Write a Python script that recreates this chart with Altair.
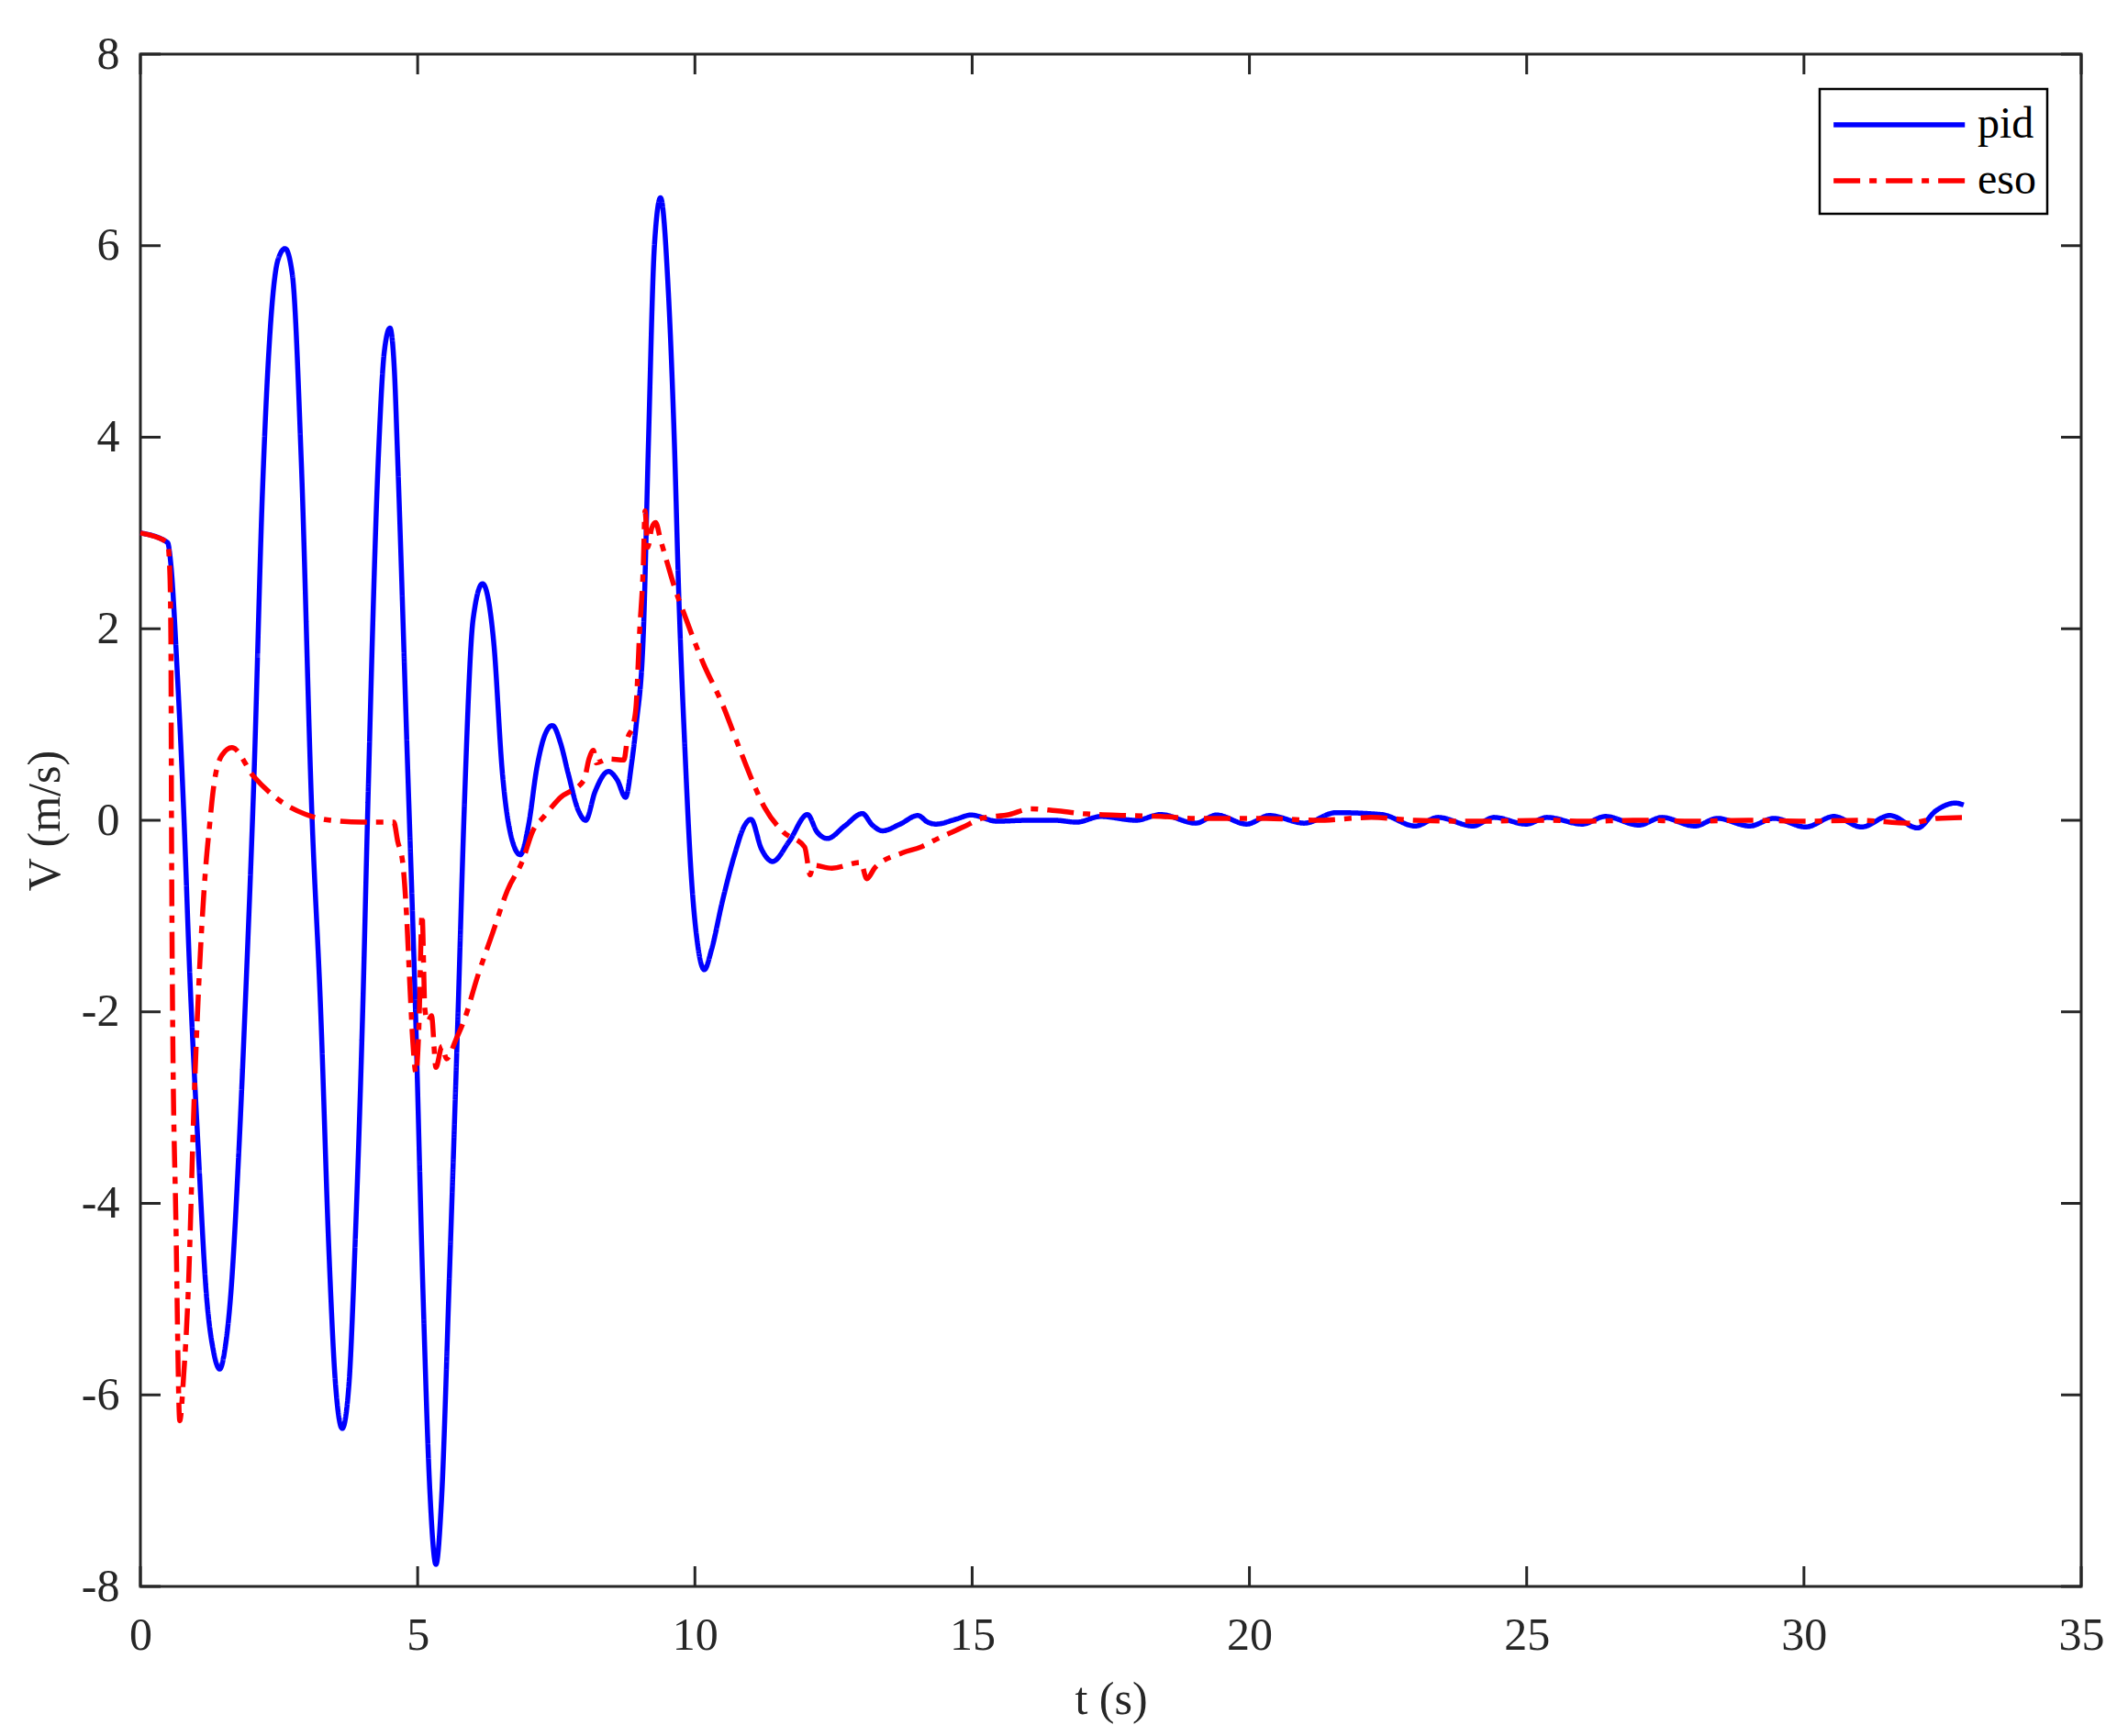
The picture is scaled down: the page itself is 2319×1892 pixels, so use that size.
import altair as alt
import pandas as pd

# pid response
pid_t = [0, 0.49, 0.55, 0.66, 0.78, 0.89, 1.04, 1.19, 1.32, 1.43, 1.53, 1.63, 1.78, 1.9,
         2.05, 2.2, 2.35, 2.48, 2.61, 2.74, 2.9, 3.09, 3.25, 3.4, 3.52, 3.64, 3.76, 3.88,
         4.01, 4.1, 4.29, 4.4, 4.5, 4.58, 4.64, 4.8, 4.96, 5.1, 5.22, 5.33, 5.43, 5.57,
         5.73, 5.84, 6.0, 6.17, 6.37, 6.53, 6.7, 6.85, 7.0, 7.15, 7.3, 7.43, 7.58, 7.71,
         7.9, 8.03, 8.2, 8.44, 8.6, 8.75, 8.86, 8.94, 9.07, 9.16, 9.27, 9.38, 9.52, 9.63,
         9.71, 9.82, 9.93, 10.05, 10.17, 10.3, 10.49, 10.71, 10.9, 11.01, 11.2, 11.4, 11.7,
         12.03, 12.2, 12.39, 12.7, 13.02, 13.2, 13.38, 13.7, 14.02, 14.2, 14.35, 14.7,
         14.98, 15.45, 16.0, 16.5, 16.88, 17.32, 17.95, 18.4, 19.03, 19.41, 19.95, 20.36,
         20.99, 21.56, 22.39, 22.99, 23.4, 24.03, 24.41, 24.99, 25.37, 26.0, 26.42, 27.02,
         27.44, 28.03, 28.44, 29.02, 29.46, 30.03, 30.54, 31.04, 31.55, 32.05, 32.38,
         32.73, 32.88]
pid_v = [3.0, 2.9, 2.67, 1.6, 0.11, -1.6, -3.4, -4.95, -5.55, -5.73, -5.5, -4.95, -3.4, -1.8,
         0.48, 3.41, 5.2, 5.85, 5.97, 5.7, 3.77, 0.11, -1.97, -4.5, -5.9, -6.35, -5.9, -4.3,
         -1.97, 0.11, 3.77, 4.9, 5.14, 4.7, 3.77, 0.9, -1.97, -5.0, -7.0, -7.77, -7.1, -4.8,
         -1.97, 0.11, 2.1, 2.47, 1.87, 0.48, -0.2, -0.36, -0.05, 0.55, 0.9, 0.99, 0.8, 0.5,
         0.1, 0.0, 0.3, 0.51, 0.42, 0.24, 0.6, 0.99, 1.94, 3.9, 6.0, 6.5, 5.53, 3.94,
         2.34, 0.74, -0.54, -1.3, -1.56, -1.35, -0.86, -0.37, -0.05, 0.01, -0.3, -0.43, -0.22,
         0.06, -0.12, -0.19, -0.06, 0.07, -0.05, -0.11, -0.04, 0.05, -0.02, -0.04, 0.01,
         0.055, -0.01, 0.0, 0.0, -0.02, 0.04, 0.0, 0.06, -0.03, 0.055, -0.04, 0.05,
         -0.03, 0.08, 0.06, -0.06, 0.03, -0.06, 0.03, -0.04, 0.03, -0.04, 0.04, -0.05,
         0.03, -0.06, 0.02, -0.06, 0.02, -0.07, 0.04, -0.07, 0.05, -0.08, 0.10,
         0.18, 0.16]

# eso response
eso_t = [0, 0.49, 0.53, 0.55, 0.56, 0.58, 0.64, 0.71, 0.78, 0.86, 0.97, 1.08, 1.17, 1.25,
         1.31, 1.47, 1.65, 2.04, 2.48, 2.99, 3.43, 4.0, 4.57, 4.64, 4.73, 4.8, 4.86, 4.91,
         4.97, 5.02, 5.08, 5.13, 5.18, 5.25, 5.33, 5.44, 5.52, 5.69, 5.85, 6.07, 6.35, 6.62,
         6.9, 7.07, 7.28, 7.56, 8.0, 8.09, 8.17, 8.22, 8.44, 8.72, 8.78, 8.89, 8.94, 9.0,
         9.07, 9.1, 9.15, 9.22, 9.29, 9.38, 9.51, 9.64, 9.79, 10.15, 10.49, 10.81, 11.03,
         11.26, 11.59, 11.98, 12.08, 12.13, 12.47, 12.99, 13.1, 13.24, 13.74, 14.07, 14.35,
         14.84, 15.17, 15.67, 16.05, 16.5, 17.0, 17.76, 18.4, 19.03, 20.3, 21.2, 22.2,
         22.99, 24.1, 25.4, 26.0, 27.0, 28.0, 29.0, 30.0, 31.0, 31.9, 32.4, 32.88]
eso_v = [3.0, 2.9, 2.6, 1.87, 0.11, -1.97, -4.17, -6.27, -5.8, -4.96, -2.9, -1.4, -0.55, -0.04,
         0.3, 0.68, 0.76, 0.46, 0.22, 0.06, 0.0, -0.02, -0.02, -0.22, -0.44, -0.99, -1.73, -2.29,
         -2.64, -2.2, -0.98, -1.97, -2.1, -2.04, -2.58, -2.36, -2.49, -2.29, -2.07, -1.65, -1.18, -0.73,
         -0.41, -0.12, 0.04, 0.23, 0.42, 0.64, 0.73, 0.6, 0.64, 0.63, 0.84, 1.0, 1.2, 1.94,
         2.67, 3.23, 2.85, 3.05, 3.11, 2.93, 2.67, 2.42, 2.18, 1.64, 1.22, 0.74, 0.42,
         0.13, -0.12, -0.28, -0.57, -0.47, -0.5, -0.44, -0.61, -0.5, -0.34, -0.28, -0.2,
         -0.07, 0.02, 0.06, 0.12, 0.1, 0.07, 0.05, 0.04, 0.02, 0.02, 0.0, 0.03,
         0.0, -0.01, 0.0, -0.01, 0.0, -0.01, 0.0, -0.01, 0.0, -0.03, 0.02, 0.03]

x_ticks = [0, 5, 10, 15, 20, 25, 30, 35]
y_ticks = [-8, -6, -4, -2, 0, 2, 4, 6, 8]

W, H = 2115, 1670
TL = 22
FONT = "Liberation Serif"
AX = "#262626"
LW = 5.5

pid = pd.DataFrame({"t": pid_t, "v": pid_v, "series": "pid"})
eso = pd.DataFrame({"t": eso_t, "v": eso_v, "series": "eso"})
xt = pd.DataFrame({"t": x_ticks})
yt = pd.DataFrame({"v": y_ticks})

xs = alt.Scale(domain=[0, 35], nice=False, zero=False)
ys = alt.Scale(domain=[-8, 8], nice=False, zero=False)
color = alt.Color("series:N", scale=alt.Scale(domain=["pid", "eso"], range=["#0000FF", "#FF0000"]),
                  legend=alt.Legend(title=None))
dash = alt.StrokeDash("series:N", scale=alt.Scale(domain=["pid", "eso"], range=[[1, 0], [29, 10, 8, 10]]),
                      legend=alt.Legend(title=None))

xaxis = alt.Axis(values=x_ticks, title="t (s)", grid=False, ticks=False, domain=False,
                 labelExpr="toString(datum.value)", labelPadding=28, titlePadding=20,
                 labelFlush=False, labelOverlap=False)
yaxis = alt.Axis(values=y_ticks, title="V (m/s)", grid=False, ticks=False, domain=False,
                 labelExpr="toString(datum.value)", labelPadding=23, titlePadding=14,
                 labelFlush=False, labelOverlap=False)

pid_line = alt.Chart(pid).mark_line(strokeWidth=LW, interpolate="monotone").encode(
    x=alt.X("t:Q", scale=xs, axis=xaxis),
    y=alt.Y("v:Q", scale=ys, axis=yaxis),
    color=color,
    strokeDash=dash,
)
eso_line = alt.Chart(eso).mark_line(strokeWidth=LW, interpolate="monotone").encode(
    x=alt.X("t:Q", scale=xs, axis=xaxis),
    y=alt.Y("v:Q", scale=ys, axis=yaxis),
    color=color,
    strokeDash=dash,
)

# MATLAB style inward ticks on all four sides
tick_x_bottom = alt.Chart(xt).mark_rule(color=AX, strokeWidth=3).encode(
    x=alt.X("t:Q", scale=xs, axis=xaxis), y=alt.value(H), y2=alt.value(H - TL))
tick_x_top = alt.Chart(xt).mark_rule(color=AX, strokeWidth=3).encode(
    x=alt.X("t:Q", scale=xs, axis=xaxis), y=alt.value(0), y2=alt.value(TL))
tick_y_left = alt.Chart(yt).mark_rule(color=AX, strokeWidth=3).encode(
    y=alt.Y("v:Q", scale=ys, axis=yaxis), x=alt.value(0), x2=alt.value(TL))
tick_y_right = alt.Chart(yt).mark_rule(color=AX, strokeWidth=3).encode(
    y=alt.Y("v:Q", scale=ys, axis=yaxis), x=alt.value(W), x2=alt.value(W - TL))

chart = alt.layer(
    tick_x_bottom, tick_x_top, tick_y_left, tick_y_right, pid_line, eso_line
).properties(
    width=W,
    height=H,
    autosize=alt.AutoSizeParams(type="none"),
    padding={"left": 145, "top": 51, "right": 38, "bottom": 155},
    background="white",
).configure_view(
    stroke=AX, strokeWidth=3
).configure_axis(
    labelFont=FONT, labelFontSize=50, labelColor=AX,
    titleFont=FONT, titleFontSize=50, titleFontWeight="normal", titleColor=AX,
).configure_legend(
    orient="none", legendX=1830, legendY=38,
    # long line sample drawn from a path wider than the nominal symbol box
    symbolType="M-1,0H5", symbolSize=47.7 * 47.7, symbolStrokeWidth=LW,
    labelFont=FONT, labelFontSize=48, labelColor="black", labelOffset=106,
    strokeColor="black", strokeWidth=2.5, fillColor="white",
    padding=12, rowPadding=10,
)

chart.save("out.html", embed_options={"renderer": "svg", "actions": False})
